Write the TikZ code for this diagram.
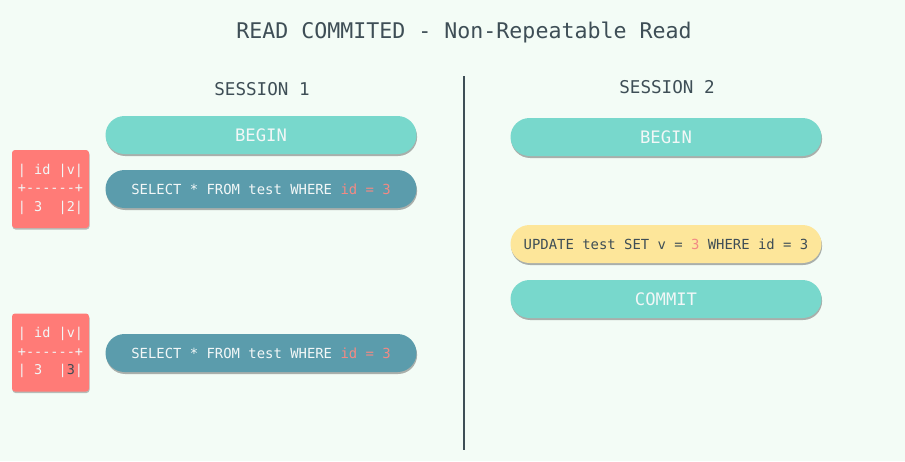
\documentclass[tikz,border=0pt]{standalone}
\usepackage{fontspec}
\setmonofont{DejaVu Sans Mono}
\usetikzlibrary{shadows}
\definecolor{bgmint}{HTML}{F3FCF6}
\definecolor{tealpill}{HTML}{78D8CC}
\definecolor{steelpill}{HTML}{5B9CAC}
\definecolor{yellowpill}{HTML}{FDE69A}
\definecolor{rowbox}{HTML}{FF7B77}
\definecolor{hltext}{HTML}{F28A84}
\definecolor{darktext}{HTML}{3E4E56}
\definecolor{lighttext}{HTML}{F2F7F7}
\begin{document}
\begin{tikzpicture}[x=1pt,y=-1pt,
    pill/.style={rectangle, rounded corners=19pt, minimum width=311pt, minimum height=38pt,
      inner sep=0pt, font=\ttfamily\fontsize{13.9}{16}\selectfont, text=lighttext,
      drop shadow={shadow xshift=0.6pt, shadow yshift=-2pt, opacity=0.3, fill=black}},
    bigpill/.style={pill, fill=tealpill, font=\ttfamily\fontsize{17.2}{20}\selectfont},
    querypill/.style={pill, fill=steelpill},
    updatepill/.style={pill, fill=yellowpill, text=darktext},
    rowsbox/.style={rectangle, rounded corners=3pt, fill=rowbox, minimum width=77pt, minimum height=78pt,
      inner sep=0pt, align=left, text=lighttext, font=\ttfamily\fontsize{13.5}{18.5}\selectfont,
      drop shadow={shadow xshift=0.5pt, shadow yshift=-1.5pt, opacity=0.25, fill=black}},
    heading/.style={text=darktext, font=\ttfamily\fontsize{17.6}{20}\selectfont}]
  \fill[bgmint] (0,0) rectangle (905,461);
  \useasboundingbox (0,0) rectangle (905,461);

  \node[text=darktext, font=\ttfamily\fontsize{21.6}{24}\selectfont] (title) at (464,32) {READ COMMITED - Non-Repeatable Read};
  \draw[darktext, line width=2.2pt] (464,76) -- (464,450);

  % session 1
  \node[heading] (s1) at (262,89) {SESSION 1};
  \node[bigpill] (begin1) at (261,135) {BEGIN};
  \node[querypill] (select1) at (261,189) {SELECT * FROM test WHERE \textcolor{hltext}{id = 3}};
  \node[querypill] (select2) at (261,353) {SELECT * FROM test WHERE \textcolor{hltext}{id = 3}};
  \node[rowsbox] (rows1) at (50.5,189) {|~id~|v|\\+-{}-{}-{}-{}-{}-+\\|~3~~|2|};
  \node[rowsbox] (rows2) at (50.5,352.5) {|~id~|v|\\+-{}-{}-{}-{}-{}-+\\|~3~~|\textcolor{darktext}{3}|};

  % session 2
  \node[heading] (s2) at (667,87) {SESSION 2};
  \node[bigpill] (begin2) at (666,137) {BEGIN};
  \node[updatepill] (update) at (666,244) {UPDATE test SET v = \textcolor{hltext}{3} WHERE id = 3};
  \node[bigpill] (commit) at (666,299) {COMMIT};
\end{tikzpicture}
\end{document}
